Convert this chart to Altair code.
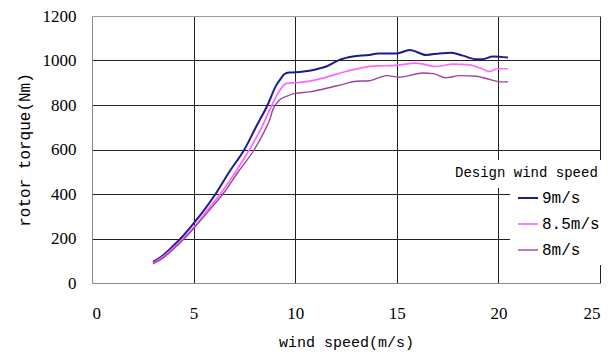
import altair as alt
import pandas as pd

series_names = ["9m/s", "8.5m/s", "8m/s"]
series_colors = ["#1c1c8e", "#ff66ff", "#a040a0"]
series_widths = [2.0, 1.4, 1.2]

ws_9 = [3, 3.5, 4, 4.36, 5, 5.5, 6.08, 6.76, 7.5, 8.07, 8.64, 9.05, 9.3, 9.46, 9.7, 10, 10.5, 11,
        11.53, 12.18, 12.83, 13.65, 14.1, 15, 15.63, 16.45, 17.1, 17.68, 18.25, 18.9, 19.2, 19.74, 20.47]
tq_9 = [95, 125, 167, 200, 268, 325, 400, 500, 600, 701, 800, 886, 920, 938, 946, 947, 952, 960,
        973, 1003, 1018, 1025, 1032, 1032, 1047, 1025, 1032, 1035, 1022, 1006, 1006, 1018, 1013]

ws_85 = [3, 3.5, 4, 4.49, 5.13, 5.7, 6.31, 7, 7.75, 8.3, 8.86, 9.2, 9.45, 9.62, 10, 10.7, 11.53,
         12.35, 13.2, 14, 14.8, 15.96, 16.95, 17.77, 18.6, 19.1, 19.57, 20, 20.47]
tq_85 = [90, 118, 158, 200, 263, 330, 400, 490, 600, 690, 800, 860, 890, 898, 900, 907, 925,
         947, 966, 976, 977, 988, 973, 984, 980, 966, 951, 963, 963]

ws_8 = [3, 3.5, 4, 4.55, 5, 5.8, 6.44, 7.2, 7.99, 8.5, 8.75, 8.9, 9.2, 9.6, 10, 10.7, 11.5, 12.35,
        13, 13.65, 14.5, 15.1, 16.3, 16.8, 17.4, 18.1, 18.9, 19.57, 20.06, 20.47]
tq_8 = [86, 113, 152, 200, 245, 330, 400, 500, 600, 685, 735, 780, 820, 840, 852, 859, 874, 893,
        907, 909, 932, 925, 944, 941, 922, 932, 929, 915, 904, 904]

x_ticks = [0, 5, 10, 15, 20, 25]
y_ticks = [0, 200, 400, 600, 800, 1000, 1200]
legend_title = "Design wind speed"

rows = []
for name, xs, ys in zip(series_names, [ws_9, ws_85, ws_8], [tq_9, tq_85, tq_8]):
    for a, b in zip(xs, ys):
        rows.append({"ws": a, "tq": b, "series": name})
df = pd.DataFrame(rows)

x_enc = alt.X(
    "ws:Q",
    scale=alt.Scale(domain=[0, 25], nice=False),
    axis=alt.Axis(
        values=x_ticks, format="d", title="wind speed(m/s)", labelPadding=22, titlePadding=13,
        titleFontSize=15,
        gridColor={"condition": {"test": "datum.value == 0", "value": "transparent"}, "value": "#222222"},
    ),
)
y_enc = alt.Y(
    "tq:Q",
    scale=alt.Scale(domain=[0, 1200], nice=False),
    axis=alt.Axis(
        values=y_ticks, format="d", title="rotor torque(Nm)", labelPadding=16, titlePadding=10,
        titleFontSize=16,
        gridColor={"condition": [
            {"test": "datum.value == 0", "value": "transparent"},
            {"test": "datum.value == 1200", "value": "#999999"}], "value": "#222222"},
    ),
)

lines = alt.Chart(df).mark_line(interpolate="monotone").encode(
    x=x_enc,
    y=y_enc,
    color=alt.Color(
        "series:N",
        scale=alt.Scale(domain=series_names, range=series_colors),
        legend=alt.Legend(
            title=None, orient="none", legendX=418, legendY=164, fillColor="white",
            padding=7, rowPadding=7, symbolType="stroke", symbolSize=400,
            symbolStrokeWidth=1.5, labelFont="Liberation Mono", labelFontSize=16,
            labelColor="black", labelOffset=3,
        ),
    ),
    strokeWidth=alt.StrokeWidth(
        "series:N", scale=alt.Scale(domain=series_names, range=series_widths), legend=None
    ),
)

title_df = pd.DataFrame({"t": [legend_title]})
cover = alt.Chart(title_df).mark_rect(color="white").encode(
    x=alt.value(358), x2=alt.value(530), y=alt.value(144), y2=alt.value(172)
)
title_txt = alt.Chart(title_df).mark_text(
    font="Liberation Mono", fontSize=14, align="left", baseline="middle", color="black"
).encode(x=alt.value(363), y=alt.value(157), text="t:N")

chart = alt.layer(lines, cover, title_txt).properties(
    width=508, height=267,
    autosize=alt.AutoSizeParams(type="none"),
    padding={"left": 84, "top": 8, "right": 8, "bottom": 67},
    background="white",
).configure_view(stroke=None).configure_axis(
    domainColor="#888888", ticks=False, labelFont="Liberation Serif, Times New Roman, serif",
    labelFontSize=17, labelColor="black", titleFont="Liberation Mono", titleFontWeight="normal",
    titleColor="black", gridOpacity=1, gridWidth=1,
)

chart.save("out.html", embed_options={"renderer": "svg", "actions": False})
